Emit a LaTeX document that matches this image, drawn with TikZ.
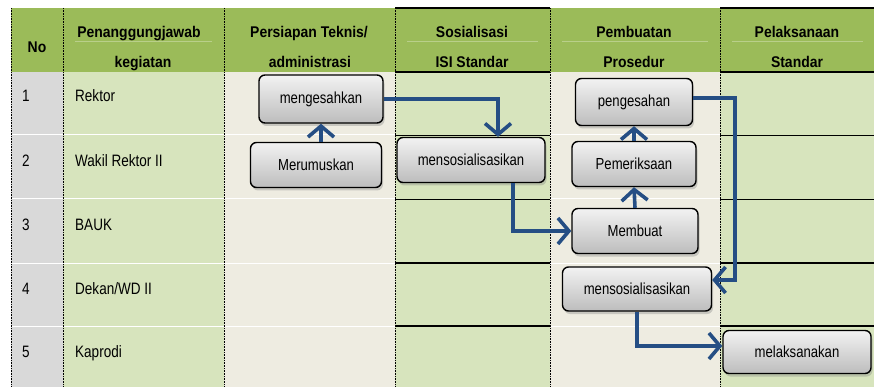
\documentclass[tikz,border=0pt]{standalone}
\usepackage{fontspec}
\setmainfont{Liberation Sans}[FakeStretch=0.82]
\newfontfamily\headfont{Liberation Sans}[FakeStretch=0.9]
\usetikzlibrary{arrows.meta,shadows}
\definecolor{hdrgreen}{HTML}{9BBB59}
\definecolor{cellgreen}{HTML}{D7E4BD}
\definecolor{cellbeige}{HTML}{EEECE1}
\definecolor{cellgray}{HTML}{D9D9D9}
\definecolor{faintgreen}{HTML}{B9CF8A}
\definecolor{flowblue}{RGB}{37,78,132}

\begin{document}
\begin{tikzpicture}[x=1pt,y=-1pt,
      every node/.append style={inner sep=0pt},
      head/.style={font=\headfont\bfseries\fontsize{15.5}{18}\selectfont,anchor=base},
      who/.style={font=\fontsize{16.5}{20}\selectfont,anchor=base west},
      flow/.style={draw=flowblue,line width=3.6pt,-{Straight Barb[length=11pt,width=26pt]}}]
    \tikzstyle{task} = [draw=black,line width=1.4pt,rounded corners=6pt,minimum height=45pt,
      top color=white!95!black,bottom color=white!74!black,
      font=\fontsize{16}{19}\selectfont,
      drop shadow={shadow xshift=1.5pt,shadow yshift=-3pt,opacity=0.35}]
    \useasboundingbox (0,0) rectangle (874,387);
    % table background
    \fill[hdrgreen] (11,8) rectangle (874,72);
    \fill[cellgray] (11,72) rectangle (63,387);
    \fill[cellgreen] (63,72) rectangle (224,387);
    \fill[cellbeige] (224,72) rectangle (395,387);
    \fill[cellgreen] (395,72) rectangle (550,387);
    \fill[cellbeige] (550,72) rectangle (720,387);
    \fill[cellgreen] (720,72) rectangle (874,387);
    \foreach \x/\w in {75/212,407/538,562/708,732/863}
      \draw[faintgreen,line width=0.6pt] (\x,41) -- (\w,41);
    \foreach \y in {135,199,263,326} {
      \draw[white,line width=1pt] (11,\y) -- (395,\y);
      \draw[white,line width=1pt] (550,\y) -- (720,\y);
    }
    \foreach \y in {135,199}
      \draw[line width=0.8pt] (395,\y) -- (550,\y) (720,\y) -- (874,\y);
    \foreach \y in {8,72,263,326}
      \draw[line width=1.5pt] (395,\y) -- (550,\y) (720,\y) -- (874,\y);
    \foreach \x in {11,63,224,395,550,720}
      \draw[line width=1pt,dash pattern=on 0.8pt off 0.8pt] (\x,8) -- (\x,387);
    % header
    \node (hno) [head] at (37,53) {No};
    \node (hwhoa) [head] at (139,38) {Penanggungjawab};
    \node (hwhob) [head] at (143,68) {kegiatan};
    \node (hprepa) [head] at (309,38) {Persiapan Teknis/};
    \node (hprepb) [head] at (310,68) {administrasi};
    \node (hsosa) [head] at (472,38) {Sosialisasi};
    \node (hsosb) [head] at (472,68) {ISI Standar};
    \node (hproa) [head] at (634,38) {Pembuatan};
    \node (hprob) [head] at (634,68) {Prosedur};
    \node (hexea) [head] at (797,38) {Pelaksanaan};
    \node (hexeb) [head] at (797,68) {Standar};
    % rows
    \foreach \n/\name/\y in {1/Rektor/102,2/Wakil Rektor II/167,3/BAUK/230,4/{Dekan/WD II}/294,5/Kaprodi/357} {
      \node (no\n) [who] at (22,\y) {\n};
      \node (who\n) [who] at (75,\y) {\name};
    }
    % steps
    \node (mengesahkan) [task,minimum width=124pt,minimum height=48pt] at (321,99) {mengesahkan};
    \node (merumuskan) [task,minimum width=131pt] at (316,165) {Merumuskan};
    \node (sosialisasi) [task,minimum width=148pt] at (471,160) {mensosialisasikan};
    \node (pengesahan) [task,minimum width=117pt,minimum height=47pt] at (634,102) {pengesahan};
    \node (pemeriksaan) [task,minimum width=124pt] at (634,164) {Pemeriksaan};
    \node (membuat) [task,minimum width=126pt] at (635,231) {Membuat};
    \node (sosprosedur) [task,minimum width=149pt,minimum height=44pt] at (637,289) {mensosialisasikan};
    \node (melaksanakan) [task,minimum width=148pt,minimum height=43pt] at (797,352) {melaksanakan};
    % flow
    \draw[flow] (mengesahkan.south |- merumuskan.north) -- (mengesahkan.south);
    \draw[flow] (mengesahkan.east) -| ([xshift=27pt]sosialisasi.north);
    \draw[flow] ([xshift=42pt]sosialisasi.south) |- (membuat.west);
    \draw[flow] (membuat.north) -- (pemeriksaan.south);
    \draw[flow] (pemeriksaan.north) -- (pengesahan.south);
    \draw[flow] ([yshift=4pt]pengesahan.east) -- ++(42,0) |- ([yshift=9pt]sosprosedur.east);
    \draw[flow] (sosprosedur.south) |- ([yshift=6pt]melaksanakan.west);
\end{tikzpicture}
\end{document}
